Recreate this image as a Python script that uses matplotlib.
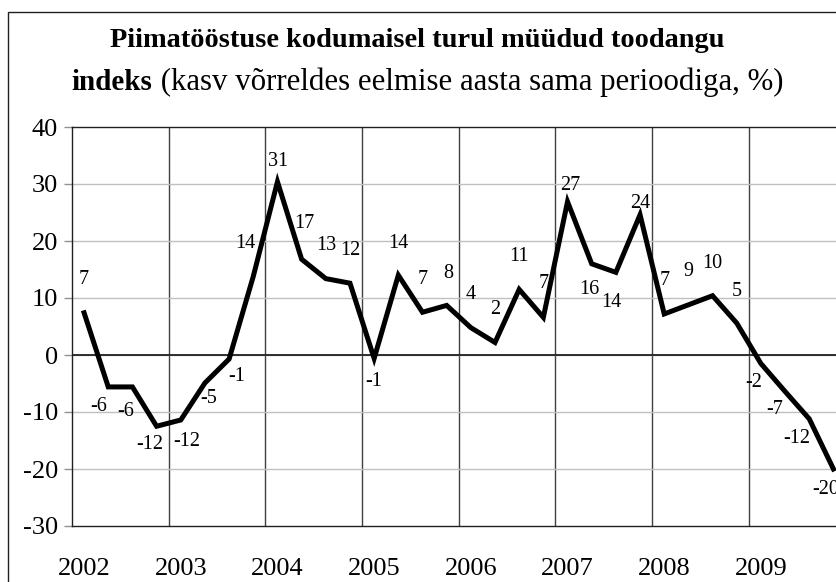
""" Piimatööstuse kodumaisel turul müüdud toodangu indeks, 2002-2009 (kvartalid) """

import numpy as np
import matplotlib.pyplot as plt
from matplotlib.patches import Rectangle

# data: growth vs. same quarter of previous year, %
years = ['2002', '2003', '2004', '2005', '2006', '2007', '2008', '2009']
values = [7.4, -5.6, -5.6, -12.5, -11.4, -4.9, -0.7, 13.8,
          30.4, 16.8, 13.4, 12.6, -0.6, 14.0, 7.5, 8.7,
          4.8, 2.2, 11.5, 6.6, 26.9, 16.0, 14.5, 24.6,
          7.2, 8.8, 10.4, 5.6, -1.5, -6.4, -11.2, -20.0]
labels = ['7', '-6', '-6', '-12', '-12', '-5', '-1', '14',
          '31', '17', '13', '12', '-1', '14', '7', '8',
          '4', '2', '11', '7', '27', '16', '14', '24',
          '7', '9', '10', '5', '-2', '-7', '-12', '-20']

# label offsets in pixels (dx, dy)
offsets = [(0, 33), (-10, -20), (-7, -25), (-7, -18), (6, -22), (4, -16), (8, -18), (-8, 33),
           (1, 20), (3, 36), (0, 33), (0, 33), (0, -23), (0, 32), (0, 33), (2, 32),
           (0, 33), (0, 33), (0, 33), (0, 34), (3, 16), (-2, -26), (-5, -30), (0, 11),
           (0, 33), (0, 33), (0, 32), (0, 32), (-7, -19), (-10, -18), (-12, -20), (-8, -21)]

W, H = 837, 582
serif = ['Liberation Serif', 'DejaVu Serif']


def main():
    plt.rcParams['font.family'] = serif
    plt.rcParams['axes.unicode_minus'] = False
    fig = plt.figure(figsize=(W / 100, H / 100), dpi=100)

    # outer frame of the chart (cut off on the right and at the bottom)
    fig.patches.append(Rectangle((8 / W, -0.1), 1.2, 1.1 - 12 / H,
                                 transform=fig.transFigure, fill=False,
                                 edgecolor='#202020', lw=1.0))

    ax = fig.add_axes([72 / W, 1 - 526 / H, 773.5 / W, 399 / H])
    x = np.arange(len(values))
    ax.plot(x, values, color='black', lw=3.6, solid_joinstyle='miter', zorder=3)

    for xi, v, lab, (dx, dy) in zip(x, values, labels, offsets):
        ax.annotate(lab, (xi, v), xytext=(dx, dy), textcoords='offset pixels',
                    ha='center', va='center', fontsize=14.5, zorder=4)

    ax.set_xlim(-0.5, len(values) - 0.5)
    ax.set_ylim(-30, 40)
    ax.set_yticks(np.arange(-30, 41, 10))
    ax.tick_params(axis='y', labelsize=19, length=6, width=1, color='#909090',
                   direction='out', pad=4)

    # year labels under the first quarter, grid lines at year boundaries
    ax.set_xticks(np.arange(0, len(values), 4))
    ax.set_xticklabels(years)
    ax.tick_params(axis='x', labelsize=19, length=0, pad=23)
    for b in np.arange(3.5, len(values) - 1, 4):
        ax.axvline(b, color='#404040', lw=1.0, zorder=1)
    for yv in np.arange(-20, 40, 10):
        ax.axhline(yv, color='#c0c0c0', lw=1.0, zorder=1)
    ax.axhline(0, color='#202020', lw=1.3, zorder=2)

    for s in ax.spines.values():
        s.set_color('#202020')
        s.set_linewidth(1.0)

    # title: first line bold, second line mixes bold and regular
    fig.text(417.5 / W, 1 - 47 / H, 'Piimatööstuse kodumaisel turul müüdud toodangu',
             ha='center', va='baseline', fontsize=20.4, fontweight='bold')
    t1 = fig.text(0, 1 - 90 / H, 'indeks', ha='left', va='baseline',
                  fontsize=21, fontweight='bold')
    t2 = fig.text(0, 1 - 90 / H, ' (kasv võrreldes eelmise aasta sama perioodiga, %)',
                  ha='left', va='baseline', fontsize=22.2)
    r = fig.canvas.get_renderer()
    w1 = t1.get_window_extent(r).width
    w2 = t2.get_window_extent(r).width
    left = 427.5 - (w1 + w2) / 2
    t1.set_x(left / W)
    t2.set_x((left + w1) / W)

    fig.savefig('out.png', dpi=100)


if __name__ == '__main__':
    main()
